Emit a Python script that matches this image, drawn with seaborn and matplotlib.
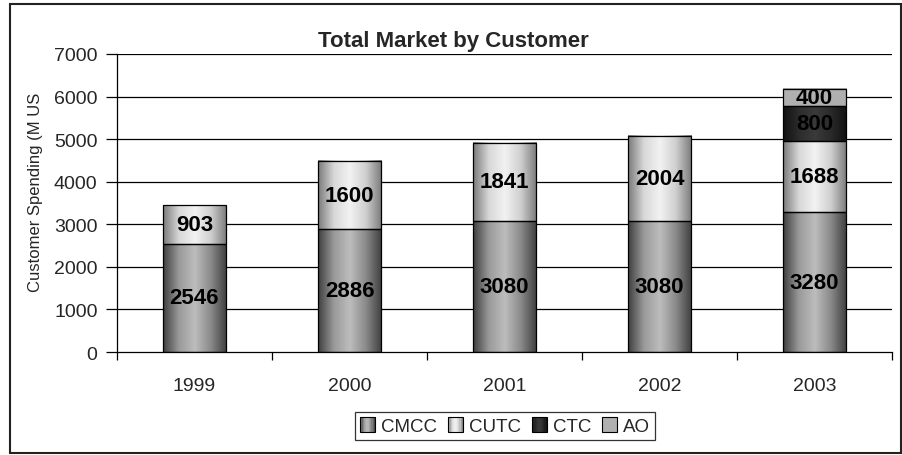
import numpy as np
import pandas as pd
import matplotlib
matplotlib.use("Agg")
import matplotlib.pyplot as plt
import seaborn as sns
from matplotlib.patches import Rectangle, Patch
from matplotlib.colors import LinearSegmentedColormap
from matplotlib.legend_handler import HandlerBase

years = ["1999", "2000", "2001", "2002", "2003"]
cmcc = [2546, 2886, 3080, 3080, 3280]
cutc = [903, 1600, 1841, 2004, 1688]
ctc = [0, 0, 0, 0, 800]
ao = [0, 0, 0, 0, 400]
series_names = ["CMCC", "CUTC", "CTC", "AO"]
yticks = [0, 1000, 2000, 3000, 4000, 5000, 6000, 7000]

sns.set_theme(style="white")
plt.rcParams['font.family'] = ['Liberation Sans', 'DejaVu Sans']

fig = plt.figure(figsize=(9.02, 4.56), dpi=100)
ax = fig.add_axes([117/902, 1-353/456, (892-117)/902, (353-55)/456])

df = pd.DataFrame({"year": years, "CMCC": cmcc, "CUTC": cutc, "CTC": ctc, "AO": ao})

grads = {
    "CMCC": ["#3e3e3e", "#9a9a9a", "#bdbdbd", "#8a8a8a", "#3e3e3e"],
    "CUTC": ["#7a7a7a", "#d8d8d8", "#f2f2f2", "#cfcfcf", "#7a7a7a"],
    "CTC": ["#111111", "#2c2c2c", "#3a3a3a", "#2a2a2a", "#111111"],
    "AO": ["#b0b0b0", "#b0b0b0", "#b0b0b0", "#b0b0b0", "#b0b0b0"],
}
solid = {"CMCC": "#8c8c8c", "CUTC": "#d9d9d9", "CTC": "#222222", "AO": "#b0b0b0"}
cmaps = {n: LinearSegmentedColormap.from_list(n, grads[n]) for n in series_names}

bottom = np.zeros(len(years))
layer_patches = []
for name in series_names:
    vals = np.array(df[name], dtype=float)
    n_before = len(ax.patches)
    sns.barplot(data=df, x="year", y=name, bottom=bottom, color=solid[name],
                width=0.41, edgecolor="black", linewidth=0.9, ax=ax,
                saturation=1, zorder=3)
    patches = ax.patches[n_before:]
    layer_patches.append((name, patches, vals, bottom.copy()))
    bottom = bottom + vals

ax.set_xlim(-0.5, 4.5)
ax.set_ylim(0, 7000)

grad = np.linspace(0, 1, 256).reshape(1, -1)
for name, patches, vals, bot in layer_patches:
    for p, v, b in zip(patches, vals, bot):
        if v <= 0:
            p.set_visible(False)
            continue
        x0 = p.get_x(); w = p.get_width()
        ax.imshow(grad, cmap=cmaps[name], aspect="auto",
                  extent=[x0, x0 + w, b, b + v], zorder=2.5,
                  interpolation="bilinear")
        p.set_facecolor("none")
        ax.text(x0 + w / 2, b + v / 2, f"{int(v)}", ha="center", va="center",
                fontsize=16, fontweight="bold", color="black", zorder=5)

ax.set_xlim(-0.5, 4.5)
ax.set_ylim(0, 7000)

for yv in yticks[1:]:
    ax.axhline(yv, color="black", linewidth=0.9, zorder=1)

ax.set_yticks(yticks)
ax.set_yticklabels([str(t) for t in yticks], fontsize=14)
ax.set_xticks(range(len(years)))
ax.set_xticklabels(years, fontsize=14)
ax.set_xticks(np.arange(-0.5, 5, 1), minor=True)
ax.tick_params(axis="x", which="major", length=0, pad=18)
ax.tick_params(axis="x", which="minor", length=6, width=0.9, color="black", direction="out", bottom=True)
ax.tick_params(axis="y", which="major", length=8, width=0.9, color="black", direction="out", left=True, pad=6)
ax.set_xlabel("")
ax.set_ylabel("")
for s in ["top", "right"]:
    ax.spines[s].set_visible(False)
for s in ["left", "bottom"]:
    ax.spines[s].set_color("black")
    ax.spines[s].set_linewidth(0.9)

fig.text(453/902, 1-42/456, "Total Market by Customer", ha="center", va="center",
         fontsize=16, fontweight="bold")
fig.text(36/902, 1-192/456, "Customer Spending (M US", rotation=90,
         ha="center", va="center", fontsize=12)


class GradHandler(HandlerBase):
    def __init__(self, cmap):
        super().__init__()
        self.cmap = cmap

    def create_artists(self, legend, orig_handle, xdescent, ydescent,
                       width, height, fontsize, trans):
        arts = []
        n = 12
        for i in range(n):
            c = self.cmap((i + 0.5) / n)
            r = Rectangle((-xdescent + width * i / n, -ydescent), width / n + 0.3, height,
                          facecolor=c, edgecolor="none", transform=trans)
            arts.append(r)
        arts.append(Rectangle((-xdescent, -ydescent), width, height, facecolor="none",
                              edgecolor="black", linewidth=0.8, transform=trans))
        return arts


handles = [Patch(facecolor=solid[n], edgecolor="black", linewidth=0.8) for n in series_names]
hmap = {h: GradHandler(cmaps[n]) for h, n in zip(handles, series_names)}
leg = fig.legend(handles, series_names, loc="center", bbox_to_anchor=(505/902, 1-427/456),
                 ncol=4, frameon=True, fontsize=13.5, handlelength=0.8, handleheight=0.8,
                 handletextpad=0.3, columnspacing=0.6, borderpad=0.3, fancybox=False,
                 handler_map=hmap)
leg.get_frame().set_edgecolor("black")
leg.get_frame().set_linewidth(0.9)

fig.patches.append(Rectangle((10/902, 2/456), 891/902, 449/456, transform=fig.transFigure,
                             fill=False, edgecolor="#222222", linewidth=1.5))

fig.savefig("out.png", dpi=100)
